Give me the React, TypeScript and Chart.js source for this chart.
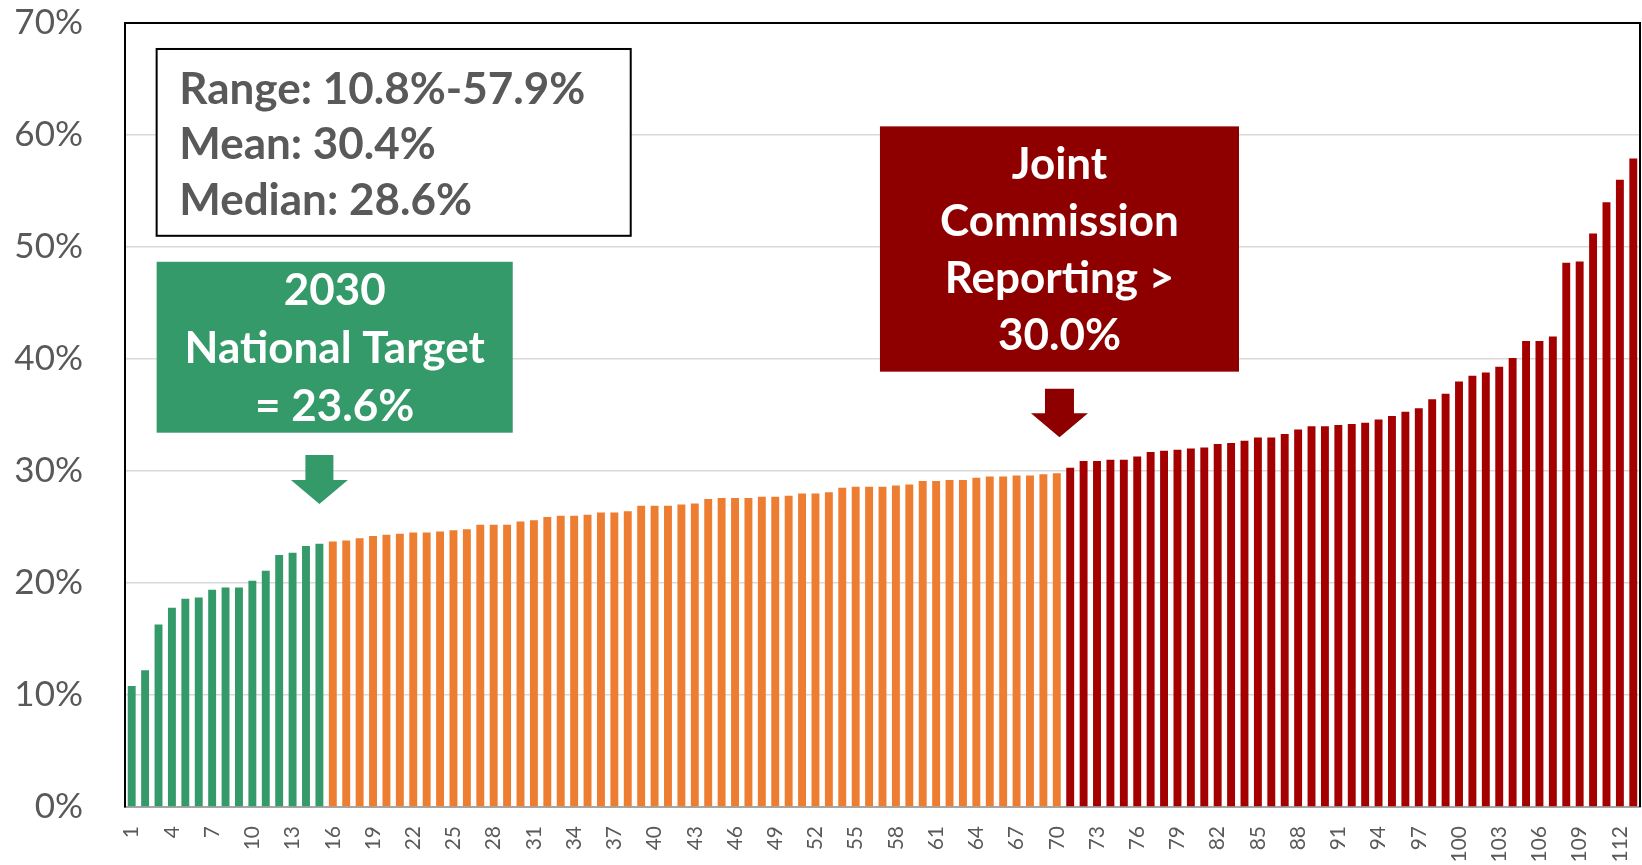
import { useEffect, useRef } from "react";
import { Chart, registerables } from "chart.js";

Chart.register(...registerables);

// ---- Data ----
const rates: number[] = [
  10.8, 12.2, 16.3, 17.8, 18.6, 18.7, 19.4, 19.6, 19.6, 20.2, 21.1, 22.5, 22.7, 23.3, 23.5,
  23.7, 23.8, 24.0, 24.2, 24.3, 24.4, 24.5, 24.5, 24.6, 24.7, 24.8, 25.2, 25.2, 25.2, 25.5, 25.6, 25.9,
  26.0, 26.0, 26.1, 26.3, 26.3, 26.4, 26.9, 26.9, 26.9, 27.0, 27.1, 27.5, 27.6, 27.6, 27.6, 27.7, 27.7,
  27.8, 28.0, 28.0, 28.1, 28.5, 28.6, 28.6, 28.6, 28.7, 28.8, 29.1, 29.1, 29.2, 29.2, 29.4, 29.5, 29.5,
  29.6, 29.6, 29.7, 29.8,
  30.3, 30.9, 30.9, 31.0, 31.0, 31.3, 31.7, 31.8, 31.9, 32.0, 32.1, 32.4, 32.5, 32.7, 33.0, 33.0, 33.3,
  33.7, 34.0, 34.0, 34.1, 34.2, 34.3, 34.6, 34.9, 35.3, 35.6, 36.4, 36.9, 38.0, 38.5, 38.8, 39.3, 40.1,
  41.6, 41.6, 42.0, 48.6, 48.7, 51.2, 54.0, 56.0, 57.9,
];
const hospitalLabels: string[] = rates.map((_, i) => String(i + 1));
const yMin = 0;
const yMax = 70;
const yStep = 10;
const nationalTarget = 23.6;
const jcThreshold = 30.0;

const statsLines = ["Range: 10.8%-57.9%", "Mean: 30.4%", "Median: 28.6%"];
const targetLines = ["2030", "National Target", "= 23.6%"];
const jcLines = ["Joint", "Commission", "Reporting >", "30.0%"];

// colours
const GREEN = "#359a69";
const ORANGE = "#ed7d31";
const RED = "#a40000";
const RED_BOX = "#8e0000";
const GRAY_TEXT = "#595959";

// annotation boxes in data units (x = category index, y = percent)
const annotationBoxes = [
  { kind: "stats", x0: 1.86, x1: 37.22, yTop: 67.68, yBottom: 51.0, fill: "#ffffff", stroke: "#000000", color: GRAY_TEXT, lines: statsLines, align: "left", first: 55, gap: 55.5, size: 44 },
  { kind: "target", x0: 1.86, x1: 28.42, yTop: 48.68, yBottom: 33.42, fill: GREEN, stroke: "", color: "#ffffff", lines: targetLines, align: "center", first: 43, gap: 58.3, size: 44 },
  { kind: "jc", x0: 55.81, x1: 82.59, yTop: 60.77, yBottom: 38.87, fill: RED_BOX, stroke: "", color: "#ffffff", lines: jcLines, align: "center", first: 52.3, gap: 57.2, size: 44 },
];
const arrows = [
  { x: 14, yTop: 31.43, yNeck: 29.2, yTip: 27.06, shaft: 28, head: 57, color: GREEN },
  { x: 69.2, yTop: 37.35, yNeck: 35.16, yTip: 33.01, shaft: 29, head: 57, color: RED_BOX },
];

const annotationPlugin = {
  id: "annotations",
  afterDatasetsDraw(chart: any) {
    const { ctx, chartArea, scales } = chart;
    const xs = scales.x;
    const ys = scales.y;
    ctx.save();
    // plot-area frame (top and right)
    ctx.strokeStyle = "#000000";
    ctx.lineWidth = 2;
    ctx.beginPath();
    ctx.moveTo(chartArea.left, chartArea.top);
    ctx.lineTo(chartArea.right, chartArea.top);
    ctx.lineTo(chartArea.right, chartArea.bottom);
    ctx.stroke();

    for (const b of annotationBoxes) {
      const x0 = xs.getPixelForValue(b.x0);
      const x1 = xs.getPixelForValue(b.x1);
      const y0 = ys.getPixelForValue(b.yTop);
      const y1 = ys.getPixelForValue(b.yBottom);
      ctx.fillStyle = b.fill;
      ctx.fillRect(x0, y0, x1 - x0, y1 - y0);
      if (b.stroke) {
        ctx.strokeStyle = b.stroke;
        ctx.lineWidth = 2;
        ctx.strokeRect(x0, y0, x1 - x0, y1 - y0);
      }
      ctx.fillStyle = b.color;
      ctx.font = `bold ${b.size}px Lato, "Open Sans", sans-serif`;
      ctx.textBaseline = "alphabetic";
      ctx.textAlign = b.align as CanvasTextAlign;
      const tx = b.align === "left" ? x0 + 22.6 : (x0 + x1) / 2;
      b.lines.forEach((line, i) => {
        ctx.fillText(line, tx, y0 + b.first + i * b.gap);
      });
    }

    for (const a of arrows) {
      const cx = xs.getPixelForValue(a.x);
      const t = ys.getPixelForValue(a.yTop);
      const n = ys.getPixelForValue(a.yNeck);
      const tip = ys.getPixelForValue(a.yTip);
      ctx.fillStyle = a.color;
      ctx.beginPath();
      ctx.moveTo(cx - a.shaft / 2, t);
      ctx.lineTo(cx + a.shaft / 2, t);
      ctx.lineTo(cx + a.shaft / 2, n);
      ctx.lineTo(cx + a.head / 2, n);
      ctx.lineTo(cx, tip);
      ctx.lineTo(cx - a.head / 2, n);
      ctx.lineTo(cx - a.shaft / 2, n);
      ctx.closePath();
      ctx.fill();
    }
    ctx.restore();
  },
};

export default function App() {
  const canvasRef = useRef<HTMLCanvasElement | null>(null);

  useEffect(() => {
    const canvas = canvasRef.current;
    if (!canvas) return;
    const colors = rates.map((v) => (v <= nationalTarget ? GREEN : v <= jcThreshold ? ORANGE : RED));
    const chart = new Chart(canvas, {
      type: "bar",
      data: {
        labels: hospitalLabels,
        datasets: [
          {
            data: rates,
            backgroundColor: colors,
            borderWidth: 0,
            barPercentage: 0.59,
            categoryPercentage: 1.0,
          },
        ],
      },
      options: {
        animation: false,
        responsive: false,
        maintainAspectRatio: false,
        layout: { padding: { left: 0, right: 2, top: 23, bottom: 0 } },
        plugins: {
          legend: { display: false },
          tooltip: { enabled: false },
        },
        scales: {
          x: {
            grid: { display: false, drawTicks: false },
            border: { display: true, color: "#a6a6a6", width: 2 },
            ticks: {
              autoSkip: false,
              minRotation: 90,
              maxRotation: 90,
              padding: 19,
              color: GRAY_TEXT,
              font: { family: "Lato, 'Open Sans', sans-serif", size: 21 },
              callback: (_v: any, i: number) => (i % 3 === 0 ? hospitalLabels[i] : ""),
            },
            afterFit: (s: any) => {
              s.height = 58;
              s.paddingLeft = 0;
              s.paddingRight = 0;
            },
          },
          y: {
            min: yMin,
            max: yMax,
            grid: { color: "#d9d9d9", lineWidth: 1.5, drawTicks: false },
            border: { display: true, color: "#000000", width: 2 },
            ticks: {
              stepSize: yStep,
              padding: 42,
              color: GRAY_TEXT,
              font: { family: "Lato, 'Open Sans', sans-serif", size: 35 },
              callback: (v: any) => `${v}%`,
            },
            afterFit: (s: any) => {
              s.width = 125;
              s.paddingTop = 0;
              s.paddingBottom = 0;
            },
          },
        },
      },
      plugins: [annotationPlugin],
    });
    return () => chart.destroy();
  }, []);

  return (
    <div style={{ position: "absolute", left: 0, top: 0, width: 1642, height: 865, background: "#ffffff" }}>
      <canvas ref={canvasRef} width={1642} height={865} style={{ width: 1642, height: 865, display: "block" }} />
    </div>
  );
}
